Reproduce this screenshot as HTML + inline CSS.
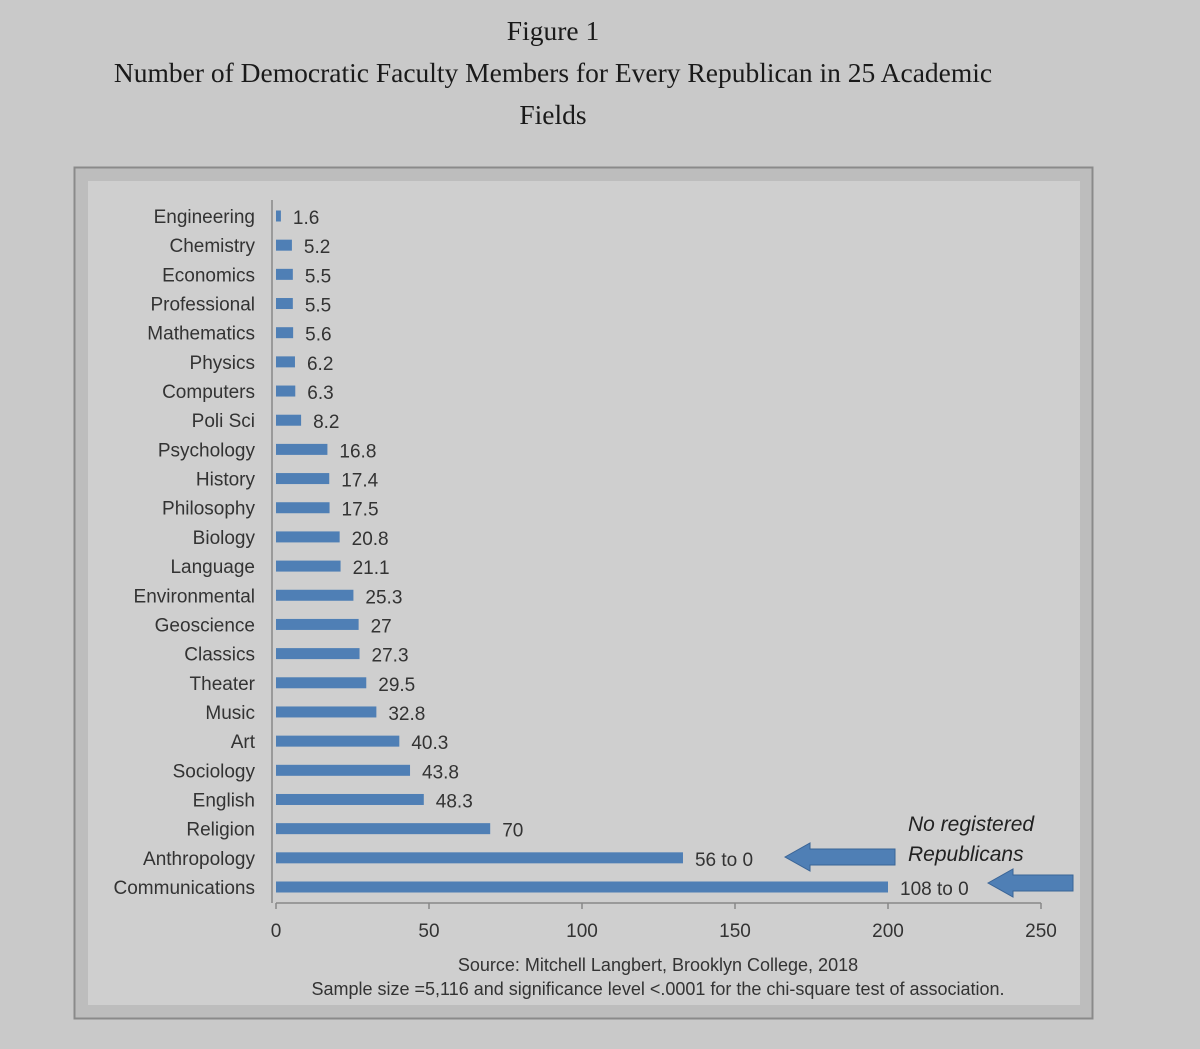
<!DOCTYPE html>
<html><head><meta charset="utf-8"><style>
body{margin:0;background:#c9c9c9;width:1200px;height:1049px;overflow:hidden;}
svg{display:block}
</style></head><body>
<svg width="1200" height="1049" viewBox="0 0 1200 1049" xmlns="http://www.w3.org/2000/svg">
<rect x="0" y="0" width="1200" height="1049" fill="#c9c9c9"/>
<g font-family="Liberation Serif, serif" fill="#1a1a1a" font-size="27.5" text-anchor="middle">
<text x="553" y="40">Figure 1</text>
<text x="553" y="82">Number of Democratic Faculty Members for Every Republican in 25 Academic</text>
<text x="553" y="124">Fields</text>
</g>
<rect x="74.5" y="167.5" width="1018" height="851" fill="#bdbdbd" stroke="#8a8a8a" stroke-width="2"/>
<rect x="88" y="181" width="992" height="824" fill="#cfcfcf"/>
<g id="chart" font-family="Liberation Sans, sans-serif" font-size="19" fill="#333"></g>
<g font-family="Liberation Sans, sans-serif" font-size="18" fill="#333" text-anchor="middle">
<text x="658" y="971">Source: Mitchell Langbert, Brooklyn College, 2018</text>
<text x="658" y="995">Sample size =5,116 and significance level &lt;.0001 for the chi-square test of association.</text>
</g>
<g>
<polygon points="785,857 810,843 810,849 895,849 895,865 810,865 810,871" fill="#4f7fb5" stroke="#3a6496"/>
<polygon points="988,883 1013,869 1013,875 1073,875 1073,891 1013,891 1013,897" fill="#4f7fb5" stroke="#3a6496"/>
<text x="908" y="831" font-family="Liberation Sans, sans-serif" font-style="italic" font-size="21" fill="#222">No registered</text>
<text x="908" y="861" font-family="Liberation Sans, sans-serif" font-style="italic" font-size="21" fill="#222">Republicans</text>
</g>
</svg>
<script>
const categories=["Engineering","Chemistry","Economics","Professional","Mathematics","Physics","Computers","Poli Sci","Psychology","History","Philosophy","Biology","Language","Environmental","Geoscience","Classics","Theater","Music","Art","Sociology","English","Religion","Anthropology","Communications"];
const values=[1.6,5.2,5.5,5.5,5.6,6.2,6.3,8.2,16.8,17.4,17.5,20.8,21.1,25.3,27,27.3,29.5,32.8,40.3,43.8,48.3,70,133,200];
const valueLabels=["1.6","5.2","5.5","5.5","5.6","6.2","6.3","8.2","16.8","17.4","17.5","20.8","21.1","25.3","27","27.3","29.5","32.8","40.3","43.8","48.3","70","56 to 0","108 to 0"];
const ticks=[0,50,100,150,200,250];
const NS="http://www.w3.org/2000/svg";
const g=document.getElementById('chart');
const x=v=>276+v*(1041-276)/250;
const n=categories.length;
const y=i=>216+i*(887-216)/(n-1);
function mk(t,a){const e=document.createElementNS(NS,t);for(const k in a)e.setAttribute(k,a[k]);g.appendChild(e);return e;}
const axisY=903;
let ax=mk('line',{x1:x(0),x2:x(250),y1:axisY,y2:axisY,stroke:'#888','stroke-width':1.5});


let ay=mk('line',{x1:x(0)-4,x2:x(0)-4,y1:200,y2:axisY,stroke:'#888','stroke-width':1.5});


ticks.forEach(t=>{
 let l=mk('line',{x1:x(t),x2:x(t),y1:axisY,y2:axisY+6,stroke:'#888','stroke-width':1.5});
 
 
 let tx=mk('text',{x:x(t),y:937,'text-anchor':'middle'});
 tx.textContent=t;
 
 
});
categories.forEach((c,i)=>{
 const yy=y(i);
 let lb=mk('text',{x:255,y:yy+7,'text-anchor':'end'});
 lb.textContent=c;
 
 
 let b=mk('rect',{x:x(0),y:yy-5.5,width:x(values[i])-x(0),height:11,fill:'#4f7fb5'});
 
 
 let v=mk('text',{x:x(values[i])+12,y:yy+8});
 v.textContent=valueLabels[i];
 
 
});
</script>
</body></html>
